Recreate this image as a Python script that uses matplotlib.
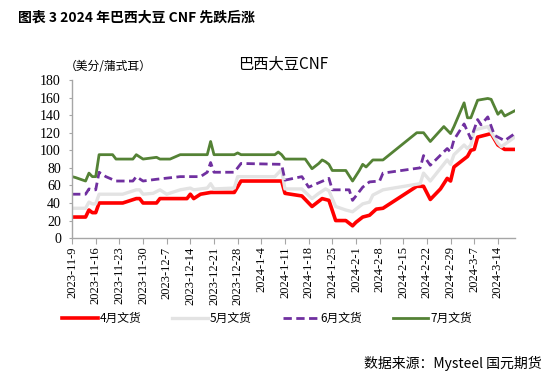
import pandas as pd
import numpy as np
import matplotlib
matplotlib.use("Agg")
import matplotlib.pyplot as plt

plt.rcParams['font.family'] = ['Noto Sans CJK SC', 'DejaVu Sans']

# 4月交货
dates_apr = ["2023-11-09", "2023-11-13", "2023-11-14", "2023-11-15", "2023-11-16", "2023-11-17",
             "2023-11-21", "2023-11-24", "2023-11-28", "2023-11-29", "2023-11-30", "2023-12-04",
             "2023-12-05", "2023-12-13", "2023-12-14", "2023-12-15", "2023-12-17", "2023-12-20",
             "2023-12-27", "2023-12-29", "2024-01-10", "2024-01-11", "2024-01-16", "2024-01-19",
             "2024-01-21", "2024-01-22", "2024-01-24", "2024-01-26", "2024-01-29", "2024-01-31",
             "2024-02-01", "2024-02-03", "2024-02-05", "2024-02-07", "2024-02-09", "2024-02-19",
             "2024-02-21", "2024-02-23", "2024-02-26", "2024-02-28", "2024-02-29", "2024-03-01",
             "2024-03-05", "2024-03-06", "2024-03-07", "2024-03-08", "2024-03-09", "2024-03-12",
             "2024-03-14", "2024-03-16", "2024-03-19"]
vals_apr = [24, 24, 32, 29, 29, 40, 40, 40, 45, 45, 40, 40, 45, 45, 50, 45, 50, 52, 52, 65,
            65, 51, 48, 36, 42, 45, 43, 20, 20, 14, 18, 24, 26, 33, 34, 59, 59, 44, 56, 68,
            65, 81, 93, 100, 101, 115, 116, 119, 106, 101, 101]

# 5月交货
dates_may = ["2023-11-09", "2023-11-13", "2023-11-14", "2023-11-15", "2023-11-16", "2023-11-17",
             "2023-11-24", "2023-11-28", "2023-11-29", "2023-11-30", "2023-12-03", "2023-12-05",
             "2023-12-07", "2023-12-11", "2023-12-14", "2023-12-15", "2023-12-19", "2023-12-20",
             "2023-12-21", "2023-12-27", "2023-12-28", "2024-01-08", "2024-01-10", "2024-01-11",
             "2024-01-16", "2024-01-19", "2024-01-21", "2024-01-23", "2024-01-24", "2024-01-26",
             "2024-01-29", "2024-01-31", "2024-02-03", "2024-02-05", "2024-02-06", "2024-02-09",
             "2024-02-20", "2024-02-21", "2024-02-23", "2024-02-28", "2024-02-29", "2024-03-01",
             "2024-03-04", "2024-03-05", "2024-03-06", "2024-03-07", "2024-03-11", "2024-03-14",
             "2024-03-15", "2024-03-19"]
vals_may = [34, 34, 41, 39, 39, 50, 50, 55, 55, 50, 51, 55, 50, 55, 57, 55, 57, 62, 56, 57,
            70, 70, 78, 56, 56, 45, 51, 56, 54, 36, 32, 30, 39, 41, 49, 55, 62, 74, 65, 89,
            84, 95, 106, 102, 106, 123, 127, 108, 104, 115]

# 6月交货
dates_jun = ["2023-11-09", "2023-11-13", "2023-11-14", "2023-11-15", "2023-11-16", "2023-11-17",
             "2023-11-19", "2023-11-22", "2023-11-27", "2023-11-28", "2023-11-30", "2023-12-04",
             "2023-12-11", "2023-12-17", "2023-12-19", "2023-12-20", "2023-12-21", "2023-12-27",
             "2023-12-29", "2024-01-10", "2024-01-11", "2024-01-16", "2024-01-18", "2024-01-24",
             "2024-01-25", "2024-01-30", "2024-01-31", "2024-02-03", "2024-02-05", "2024-02-08",
             "2024-02-09", "2024-02-20", "2024-02-21", "2024-02-23", "2024-02-28", "2024-02-29",
             "2024-03-01", "2024-03-04", "2024-03-06", "2024-03-08", "2024-03-09", "2024-03-11",
             "2024-03-13", "2024-03-16", "2024-03-19"]
vals_jun = [50, 50, 56, 55, 55, 75, 70, 65, 65, 70, 65, 67, 70, 70, 75, 86, 75, 75, 85, 84,
            66, 70, 58, 68, 55, 55, 43, 58, 64, 65, 74, 80, 94, 83, 102, 98, 112, 130, 113, 135,
            129, 138, 117, 111, 119]

# 7月交货
dates_jul = ["2023-11-09", "2023-11-10", "2023-11-13", "2023-11-14", "2023-11-15", "2023-11-16",
             "2023-11-17", "2023-11-21", "2023-11-22", "2023-11-27", "2023-11-28", "2023-11-30",
             "2023-12-04", "2023-12-05", "2023-12-08", "2023-12-11", "2023-12-19", "2023-12-20",
             "2023-12-21", "2023-12-27", "2023-12-28", "2023-12-29", "2024-01-08", "2024-01-09",
             "2024-01-10", "2024-01-11", "2024-01-17", "2024-01-19", "2024-01-21", "2024-01-22",
             "2024-01-23", "2024-01-24", "2024-01-25", "2024-01-29", "2024-01-31", "2024-02-02",
             "2024-02-03", "2024-02-04", "2024-02-06", "2024-02-09", "2024-02-19", "2024-02-21",
             "2024-02-23", "2024-02-27", "2024-02-29", "2024-03-01", "2024-03-04", "2024-03-05",
             "2024-03-06", "2024-03-08", "2024-03-11", "2024-03-12", "2024-03-14", "2024-03-15",
             "2024-03-16", "2024-03-19"]
vals_jul = [70, 69, 65, 74, 70, 70, 95, 95, 90, 90, 95, 90, 92, 90, 90, 95, 95, 110, 95, 95,
            97, 95, 95, 98, 95, 90, 90, 79, 85, 89, 87, 84, 77, 77, 65, 77, 84, 81, 89, 89,
            120, 120, 110, 127, 119, 127, 154, 137, 137, 157, 159, 158, 141, 145, 139, 145]

series = [
    ("4月文货", dates_apr, vals_apr, "#FF0000", 2.6, "-"),
    ("5月文货", dates_may, vals_may, "#E3E3E3", 2.4, "-"),
    ("6月文货", dates_jun, vals_jun, "#7030A0", 2.0, (0, (3, 1.6))),
    ("7月文货", dates_jul, vals_jul, "#548235", 2.0, "-"),
]

fig = plt.figure(figsize=(5.5, 3.81), dpi=100)
ax = fig.add_axes([0.131, 0.375, 0.805, 0.415])

for name, d, v, c, lw, ls in series:
    ax.plot(pd.to_datetime(d), v, color=c, lw=lw, ls=ls, label=name,
            solid_joinstyle='round', dash_capstyle='butt')

start = pd.Timestamp("2023-11-09")
ticks = pd.date_range(start, "2024-03-14", freq="7D")
ax.set_xlim(start, pd.Timestamp("2024-03-19"))
ax.set_xticks(ticks)
ax.set_xticklabels([f"{t.year}-{t.month}-{t.day}" for t in ticks], rotation=90,
                   family='Liberation Serif', fontsize=9)
ax.set_ylim(0, 180)
ax.set_yticks(np.arange(0, 181, 20))
ax.set_yticklabels([str(v) for v in range(0, 181, 20)], family='Liberation Serif', fontsize=10)

for s in ['top', 'right']:
    ax.spines[s].set_visible(False)
for s in ['left', 'bottom']:
    ax.spines[s].set_color('#A6A6A6')
    ax.spines[s].set_linewidth(1.0)
ax.tick_params(axis='x', direction='out', length=4, color='#A6A6A6', pad=2)
ax.tick_params(axis='y', direction='out', length=2, color='#A6A6A6', pad=6)

fig.text(0.033, 0.955, "图表 3 2024 年巴西大豆 CNF 先跌后涨", fontsize=10, fontweight='bold',
         va='center', ha='left')
fig.text(0.118, 0.826, "（美分/蒲式耳）", fontsize=8.5, va='center', ha='left')
fig.text(0.515, 0.832, "巴西大豆CNF", fontsize=11, va='center', ha='center')
fig.text(0.985, 0.045, "数据来源：Mysteel 国元期货", fontsize=10, va='center', ha='right')

fig.legend(loc='center', bbox_to_anchor=(0.486, 0.163), ncol=4, frameon=False,
           fontsize=8.5, handlelength=3.0, handletextpad=0.2, columnspacing=2.6)

fig.savefig("out.png", dpi=100)
